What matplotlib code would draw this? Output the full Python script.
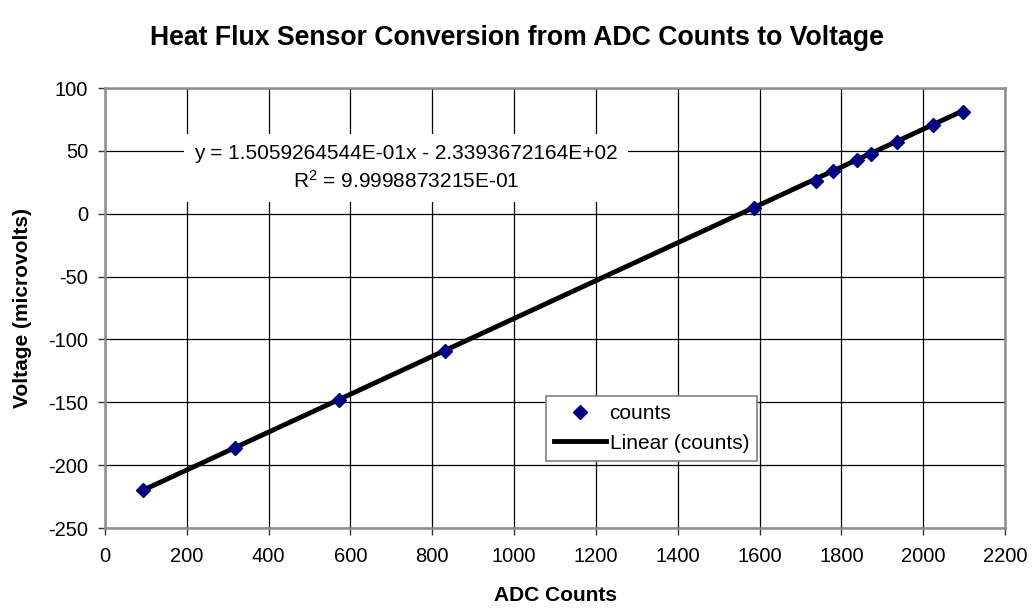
import matplotlib
matplotlib.use("Agg")
import matplotlib.pyplot as plt
from matplotlib.lines import Line2D

plt.rcParams["font.family"] = ["Liberation Sans", "DejaVu Sans"]
plt.rcParams["axes.unicode_minus"] = False
plt.rcParams["mathtext.fontset"] = "custom"
plt.rcParams["mathtext.rm"] = "Liberation Sans"
plt.rcParams["mathtext.default"] = "rm"

# Calibration readings
adc_counts = [92, 318, 572, 830, 1586, 1738, 1779, 1838, 1872, 1937, 2025, 2098]
voltage_uv = [-220, -186, -148, -109, 4.8, 26.3, 34.2, 42.7, 47.5, 57.3, 70.6, 81.2]

# Linear trendline coefficients
slope = 1.5059264544E-01
intercept = -2.3393672164E+02
r_squared = 9.9998873215E-01

x_ticks = [0, 200, 400, 600, 800, 1000, 1200, 1400, 1600, 1800, 2000, 2200]
y_ticks = [-250, -200, -150, -100, -50, 0, 50, 100]

W, H = 1033, 608
fig = plt.figure(figsize=(W / 100, H / 100), dpi=100)
ax = fig.add_axes([105 / W, 1 - 528 / H, 900 / W, 440 / H])

ax.set_xlim(0, 2200)
ax.set_ylim(-250, 100)
ax.set_xticks(x_ticks)
ax.set_yticks(y_ticks)
ax.grid(True, color="black", linewidth=0.9)
ax.set_axisbelow(True)

for s in ax.spines.values():
    s.set_color("#8c8c8c")
    s.set_linewidth(1.8)
ax.tick_params(axis="both", labelsize=14.5, length=5, width=1, color="#333333",
               direction="out")
ax.tick_params(axis="y", pad=7)
ax.tick_params(axis="x", pad=9)

# Trendline over the range of the data
x0, x1 = min(adc_counts), max(adc_counts)
ax.plot([x0, x1], [slope * x0 + intercept, slope * x1 + intercept],
        color="black", linewidth=3.5, solid_capstyle="butt", zorder=3)
ax.plot(adc_counts, voltage_uv, linestyle="none", marker="D", markersize=7.5,
        color="#000080", zorder=4)

def sci(v):
    m, e = f"{v:.10E}".split("E")
    return f"{m}E{e[0]}{int(e[1:]):02d}"

eq_text = (f"y = {sci(slope)}x - {sci(abs(intercept))}\n"
           f"R$^2$ = {sci(r_squared)}")
fig.text(406 / W, 1 - 168 / H, eq_text, fontsize=15, ha="center", va="center",
         multialignment="center", linespacing=1.38,
         bbox=dict(facecolor="white", edgecolor="none", pad=7), zorder=5)

fig.text(0.5, 1 - 38 / H, "Heat Flux Sensor Conversion from ADC Counts to Voltage",
         fontsize=19.2, fontweight="bold", ha="center", va="center")
ax.set_xlabel("ADC Counts", fontsize=15, fontweight="bold", labelpad=14)
ax.set_ylabel("Voltage (microvolts)", fontsize=15, fontweight="bold", labelpad=12)

handles = [
    Line2D([], [], linestyle="none", marker="D", markersize=7.5, color="#000080"),
    Line2D([], [], color="black", linewidth=3.5),
]
leg = ax.legend(handles, ["counts", "Linear (counts)"], loc="upper left",
                bbox_to_anchor=((546 - 105) / 900, (528 - 396) / 440),
                fontsize=15, frameon=True, fancybox=False, framealpha=1,
                edgecolor="#808080", handlelength=2.5, handletextpad=0.15,
                borderpad=0.4, labelspacing=0.5, borderaxespad=0)
leg.get_frame().set_linewidth(1.2)

fig.savefig("out.png", dpi=100)
